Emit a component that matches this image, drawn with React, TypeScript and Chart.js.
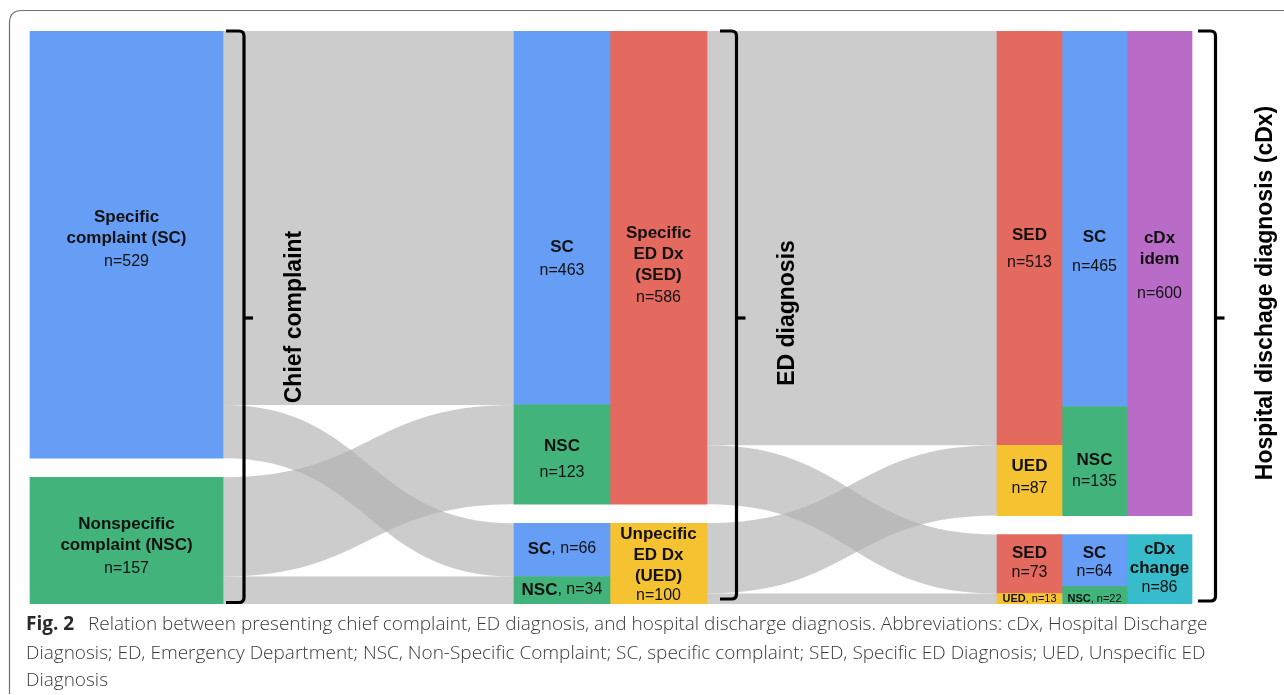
import React, { useEffect, useRef } from 'react';
import { Chart, registerables } from 'chart.js';
Chart.register(...registerables);

const W = 1284;
const H = 695;

// ---------------- data ----------------
const complaintCategories = ['Specific complaint (SC)', 'Nonspecific complaint (NSC)'];
const complaintCounts = [529, 157];
const edCategories = ['Specific ED Dx (SED)', 'Unpecific ED Dx (UED)'];
const edCounts = [586, 100];
const scByEd = [463, 66]; // SC within SED, SC within UED
const nscByEd = [123, 34]; // NSC within SED, NSC within UED
const cdxCategories = ['cDx idem', 'cDx change'];
const cdxCounts = [600, 86];
const sedByCdx = [513, 73];
const uedByCdx = [87, 13];
const scByCdx = [465, 64];
const nscByCdx = [135, 22];
const stageTitles = ['Chief complaint', 'ED diagnosis', 'Hospital dischage diagnosis (cDx)'];
const captionBold = 'Fig. 2';
const captionLines = [
  'Relation between presenting chief complaint, ED diagnosis, and hospital discharge diagnosis. Abbreviations: cDx, Hospital Discharge',
  'Diagnosis; ED, Emergency Department; NSC, Non-Specific Complaint; SC, specific complaint; SED, Specific ED Diagnosis; UED, Unspecific ED',
  'Diagnosis',
];

// ---------------- styling / layout ----------------
const TOTAL = complaintCounts[0] + complaintCounts[1];
const GAP = 23.5;
const BLUE = '#679ef5';
const GREEN = '#42b37b';
const RED = '#e4695f';
const YELLOW = '#f5c232';
const PURPLE = '#b96cc7';
const CYAN = '#37bccc';
const LINK = 'rgba(178,178,178,0.667)';
const SANS = '"Liberation Sans", Arial, sans-serif';
const CAPTION_FONT = '"Open Sans", "Noto Sans", sans-serif';

const COL_X: Record<string, [number, number]> = {
  c1: [30, 223],
  c2a: [514, 610],
  c2b: [610, 707],
  c3a: [997, 1062],
  c3b: [1062, 1127],
  c4: [1127, 1192],
};

type Range = [number, number];
function stackGroups(groups: number[][]): Range[][] {
  let pos = 0;
  return groups.map((g, gi) => {
    if (gi > 0) pos += GAP;
    return g.map((v) => {
      const r: Range = [pos, pos + v];
      pos += v;
      return r;
    });
  });
}
function split(r: Range, parts: number[]): Range[] {
  let p = r[0];
  return parts.map((v) => {
    const out: Range = [p, p + v];
    p += v;
    return out;
  });
}

const col1 = stackGroups([[complaintCounts[0]], [complaintCounts[1]]]);
const col2a = stackGroups([[scByEd[0], nscByEd[0]], [scByEd[1], nscByEd[1]]]);
const col2b = stackGroups([[edCounts[0]], [edCounts[1]]]);
const col3a = stackGroups([[sedByCdx[0], uedByCdx[0]], [sedByCdx[1], uedByCdx[1]]]);
const col3b = stackGroups([[scByCdx[0], nscByCdx[0]], [scByCdx[1], nscByCdx[1]]]);
const col4 = stackGroups([[cdxCounts[0]], [cdxCounts[1]]]);

const scSplit = split(col1[0][0], scByEd);
const nscSplit = split(col1[1][0], nscByEd);
const sedSplit = split(col2b[0][0], sedByCdx);
const uedSplit = split(col2b[1][0], uedByCdx);

const links1 = [
  { s: scSplit[0], t: col2a[0][0] },
  { s: scSplit[1], t: col2a[1][0] },
  { s: nscSplit[0], t: col2a[0][1] },
  { s: nscSplit[1], t: col2a[1][1] },
];
const links2 = [
  { s: sedSplit[0], t: col3a[0][0] },
  { s: sedSplit[1], t: col3a[1][0] },
  { s: uedSplit[0], t: col3a[0][1] },
  { s: uedSplit[1], t: col3a[1][1] },
];

function barDataset(col: string, ranges: Range[][], colors: string[]) {
  const [a, b] = COL_X[col];
  return {
    label: col,
    data: ranges.flat().map((r) => ({ x: (a + b) / 2, y: r })),
    backgroundColor: colors,
    barThickness: b - a,
    grouped: false,
    borderWidth: 0,
  };
}

type Part = { text: string; bold?: boolean };
type Label = { col: string; y: number; parts: Part[]; size?: number };
const B = (text: string): Part => ({ text, bold: true });
const R = (text: string): Part => ({ text });

const labels: Label[] = [
  { col: 'c1', y: 217, parts: [B('Specific')] },
  { col: 'c1', y: 238, parts: [B('complaint (SC)')] },
  { col: 'c1', y: 262, parts: [R(`n=${complaintCounts[0]}`)] },
  { col: 'c1', y: 524, parts: [B('Nonspecific')] },
  { col: 'c1', y: 545, parts: [B('complaint (NSC)')] },
  { col: 'c1', y: 569, parts: [R(`n=${complaintCounts[1]}`)] },
  { col: 'c2a', y: 247, parts: [B('SC')] },
  { col: 'c2a', y: 271, parts: [R(`n=${scByEd[0]}`)] },
  { col: 'c2a', y: 446, parts: [B('NSC')] },
  { col: 'c2a', y: 473, parts: [R(`n=${nscByEd[0]}`)] },
  { col: 'c2a', y: 549, parts: [B('SC'), R(`, n=${scByEd[1]}`)] },
  { col: 'c2a', y: 590, parts: [B('NSC'), R(`, n=${nscByEd[1]}`)] },
  { col: 'c2b', y: 233, parts: [B('Specific')] },
  { col: 'c2b', y: 254, parts: [B('ED Dx')] },
  { col: 'c2b', y: 275, parts: [B('(SED)')] },
  { col: 'c2b', y: 298, parts: [R(`n=${edCounts[0]}`)] },
  { col: 'c2b', y: 534, parts: [B('Unpecific')] },
  { col: 'c2b', y: 555, parts: [B('ED Dx')] },
  { col: 'c2b', y: 576, parts: [B('(UED)')] },
  { col: 'c2b', y: 596, parts: [R(`n=${edCounts[1]}`)] },
  { col: 'c3a', y: 235, parts: [B('SED')] },
  { col: 'c3a', y: 263, parts: [R(`n=${sedByCdx[0]}`)] },
  { col: 'c3a', y: 466, parts: [B('UED')] },
  { col: 'c3a', y: 489, parts: [R(`n=${uedByCdx[0]}`)] },
  { col: 'c3a', y: 553, parts: [B('SED')] },
  { col: 'c3a', y: 573, parts: [R(`n=${sedByCdx[1]}`)] },
  { col: 'c3a', y: 598.5, parts: [B('UED'), R(`, n=${uedByCdx[1]}`)], size: 11 },
  { col: 'c3b', y: 237, parts: [B('SC')] },
  { col: 'c3b', y: 267, parts: [R(`n=${scByCdx[0]}`)] },
  { col: 'c3b', y: 460, parts: [B('NSC')] },
  { col: 'c3b', y: 482, parts: [R(`n=${nscByCdx[0]}`)] },
  { col: 'c3b', y: 553, parts: [B('SC')] },
  { col: 'c3b', y: 572, parts: [R(`n=${scByCdx[1]}`)] },
  { col: 'c3b', y: 598.5, parts: [B('NSC'), R(`, n=${nscByCdx[1]}`)], size: 11 },
  { col: 'c4', y: 238, parts: [B('cDx')] },
  { col: 'c4', y: 259, parts: [B('idem')] },
  { col: 'c4', y: 294, parts: [R(`n=${cdxCounts[0]}`)] },
  { col: 'c4', y: 549, parts: [B('cDx')] },
  { col: 'c4', y: 568, parts: [B('change')] },
  { col: 'c4', y: 588, parts: [R(`n=${cdxCounts[1]}`)] },
];

function drawLink(ctx: CanvasRenderingContext2D, x0: number, x1: number, s0: number, s1: number, t0: number, t1: number) {
  const xm = (x0 + x1) / 2;
  ctx.beginPath();
  ctx.moveTo(x0, s0);
  ctx.bezierCurveTo(xm, s0, xm, t0, x1, t0);
  ctx.lineTo(x1, t1);
  ctx.bezierCurveTo(xm, t1, xm, s1, x0, s1);
  ctx.closePath();
  ctx.fill();
}

function drawBracket(ctx: CanvasRenderingContext2D, x: number, top: number, bottom: number, left: number, tipY: number) {
  const r = 5;
  ctx.beginPath();
  ctx.moveTo(left, top);
  ctx.lineTo(x - r, top);
  ctx.quadraticCurveTo(x, top, x, top + r);
  ctx.lineTo(x, bottom - r);
  ctx.quadraticCurveTo(x, bottom, x - r, bottom);
  ctx.lineTo(left, bottom);
  ctx.stroke();
  ctx.beginPath();
  ctx.moveTo(x, tipY);
  ctx.lineTo(x + 9, tipY);
  ctx.stroke();
}

const decorPlugin = {
  id: 'sankeyDecor',
  beforeDatasetsDraw(chart: any) {
    const { ctx } = chart;
    const x = chart.scales.x;
    const y = chart.scales.y;
    ctx.save();
    ctx.fillStyle = LINK;
    const groups: [any[], string, string][] = [
      [links1, 'c1', 'c2a'],
      [links2, 'c2b', 'c3a'],
    ];
    for (const [ls, from, to] of groups) {
      const x0 = x.getPixelForValue(COL_X[from][1]);
      const x1 = x.getPixelForValue(COL_X[to][0]);
      for (const l of ls) {
        drawLink(
          ctx, x0, x1,
          y.getPixelForValue(l.s[0]), y.getPixelForValue(l.s[1]),
          y.getPixelForValue(l.t[0]), y.getPixelForValue(l.t[1])
        );
      }
    }
    ctx.restore();
  },
  afterDatasetsDraw(chart: any) {
    const { ctx } = chart;
    const x = chart.scales.x;
    const y = chart.scales.y;
    ctx.save();
    // block labels
    ctx.fillStyle = '#111';
    ctx.textBaseline = 'middle';
    ctx.textAlign = 'left';
    for (const lb of labels) {
      const [a, b] = COL_X[lb.col];
      const cx = x.getPixelForValue((a + b) / 2);
      const bs = lb.size ?? 17;
      const rs = lb.size ?? 16;
      const fonts = lb.parts.map((p) => (p.bold ? `bold ${bs}px ${SANS}` : `${rs}px ${SANS}`));
      let total = 0;
      lb.parts.forEach((p, i) => {
        ctx.font = fonts[i];
        total += ctx.measureText(p.text).width;
      });
      let px = cx - total / 2;
      lb.parts.forEach((p, i) => {
        ctx.font = fonts[i];
        ctx.fillText(p.text, px, lb.y);
        px += ctx.measureText(p.text).width;
      });
    }
    // brackets
    const top = y.getPixelForValue(0);
    const bottom = y.getPixelForValue(TOTAL + GAP);
    ctx.strokeStyle = '#000';
    ctx.lineWidth = 3.2;
    ctx.lineCap = 'butt';
    ctx.lineJoin = 'round';
    drawBracket(ctx, 244, top, bottom - 1.5, 226, 318);
    drawBracket(ctx, 736.5, top, bottom - 5, 720, 318);
    drawBracket(ctx, 1215.5, top, bottom - 3, 1198, 318);
    // stage titles (rotated)
    ctx.fillStyle = '#000';
    ctx.font = `bold 23px ${SANS}`;
    ctx.textAlign = 'center';
    ctx.textBaseline = 'alphabetic';
    const titlePos: [number, number][] = [[300.5, 317], [793.5, 313], [1272, 293]];
    stageTitles.forEach((t, i) => {
      ctx.save();
      ctx.translate(titlePos[i][0], titlePos[i][1]);
      ctx.rotate(-Math.PI / 2);
      ctx.fillText(t, 0, 0);
      ctx.restore();
    });
    // caption
    ctx.textAlign = 'left';
    ctx.fillStyle = '#2a2a2a';
    ctx.font = `bold 19px ${CAPTION_FONT}`;
    ctx.fillText(captionBold, 26, 630, 50);
    ctx.fillStyle = '#3a3a3a';
    ctx.font = `300 19px ${CAPTION_FONT}`;
    ctx.fillText(captionLines[0], 88, 630, 1209 - 88);
    ctx.fillText(captionLines[1], 26, 658.5, 1207 - 26);
    ctx.fillText(captionLines[2], 26, 686);
    // frame
    ctx.strokeStyle = '#707070';
    ctx.lineWidth = 1.2;
    ctx.beginPath();
    ctx.moveTo(W + 5, 10.5);
    ctx.lineTo(22, 10.5);
    ctx.quadraticCurveTo(9.5, 10.5, 9.5, 23);
    ctx.lineTo(9.5, 694);
    ctx.stroke();
    ctx.restore();
  },
};

export default function App() {
  const ref = useRef<HTMLCanvasElement>(null);
  useEffect(() => {
    if (!ref.current) return;
    const chart = new Chart(ref.current, {
      type: 'bar',
      data: {
        datasets: [
          barDataset('c1', col1, [BLUE, GREEN]),
          barDataset('c2a', col2a, [BLUE, GREEN, BLUE, GREEN]),
          barDataset('c2b', col2b, [RED, YELLOW]),
          barDataset('c3a', col3a, [RED, YELLOW, RED, YELLOW]),
          barDataset('c3b', col3b, [BLUE, GREEN, BLUE, GREEN]),
          barDataset('c4', col4, [PURPLE, CYAN]),
        ] as any,
      },
      options: {
        responsive: false,
        animation: false,
        events: [],
        layout: { padding: { top: 31, bottom: 91, left: 0, right: 0 } },
        plugins: { legend: { display: false }, tooltip: { enabled: false }, title: { display: false } },
        scales: {
          x: { type: 'linear', min: 0, max: W, offset: false, display: false, grid: { offset: false } },
          y: { type: 'linear', min: 0, max: TOTAL + GAP, reverse: true, display: false, beginAtZero: true },
        },
      },
      plugins: [decorPlugin],
    });
    return () => chart.destroy();
  }, []);
  return (
    <div style={{ position: 'absolute', left: 0, top: 0, width: W, height: H, background: '#fff' }}>
      <canvas ref={ref} width={W} height={H} style={{ display: 'block', width: W, height: H }} />
    </div>
  );
}
